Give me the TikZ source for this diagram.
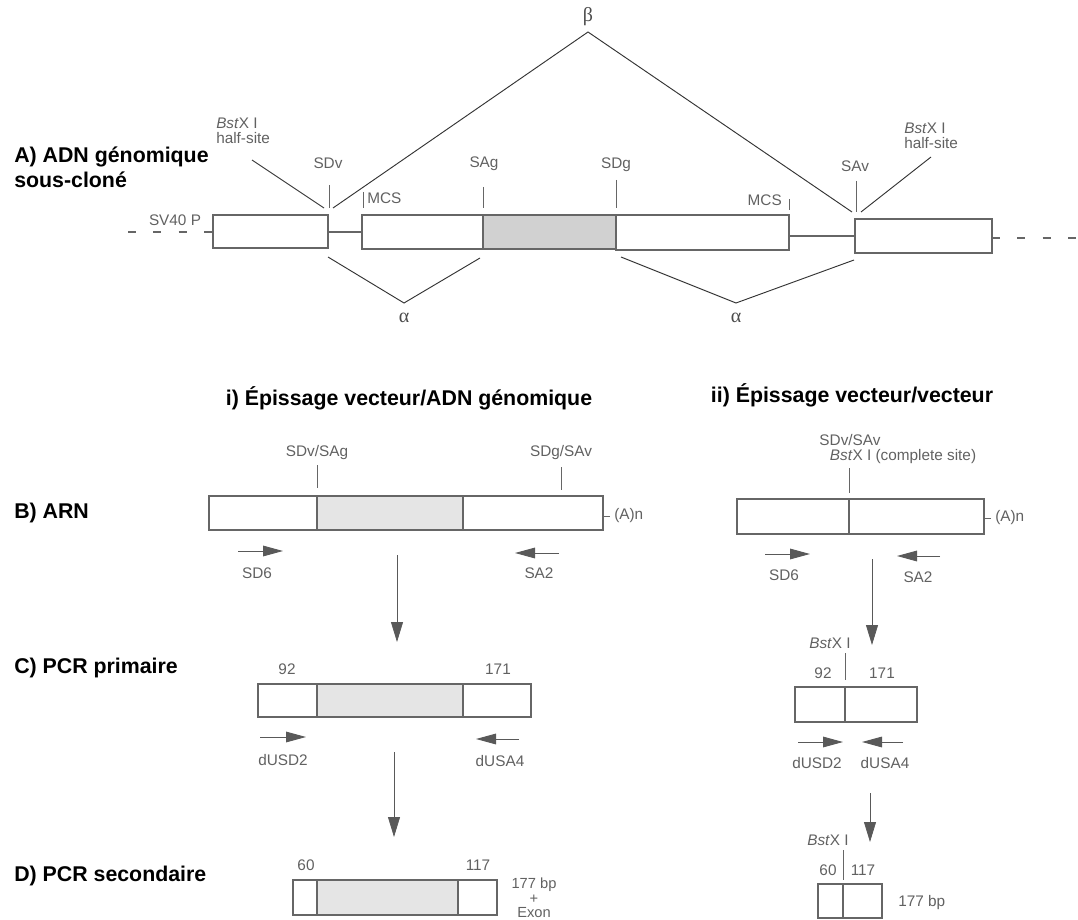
\documentclass[tikz,border=0pt]{standalone}
\usepackage{fontspec}
\setmainfont{Liberation Sans}
\newfontfamily\greekfont{Liberation Serif}
\usetikzlibrary{arrows.meta}
\definecolor{boxline}{gray}{0.4}
\definecolor{labtext}{gray}{0.38}
\definecolor{gshade}{gray}{0.82}
\definecolor{lshade}{gray}{0.9}

\begin{document}
\begin{tikzpicture}[
  x=0.75pt, y=-0.75pt,
  font=\fontsize{11.5}{13}\selectfont,
  seg/.style={draw=boxline, line width=1.3pt, fill=white},
  gseg/.style={seg, fill=gshade},
  lseg/.style={seg, fill=lshade},
  intron/.style={draw=boxline, line width=1.3pt},
  vector/.style={draw=boxline, line width=1.3pt, dash pattern=on 6pt off 13pt},
  tick/.style={draw=boxline, line width=0.6pt},
  splice/.style={draw=black!80, line width=0.7pt},
  lab/.style={text=labtext, inner sep=0pt},
  twolab/.style={lab, align=left, font=\fontsize{11.5}{11.5}\selectfont},
  head/.style={font=\bfseries\fontsize{16}{19}\selectfont, inner sep=0pt},
  greek/.style={font=\greekfont\fontsize{15}{15}\selectfont, text=black!70, inner sep=0pt},
  primer/.style={draw=black!65, line width=0.7pt, -{Triangle[length=15pt,width=8pt]}},
  flow/.style={draw=black!65, line width=0.6pt, -{Triangle[length=15pt,width=9pt]}}
]
\useasboundingbox (0,0) rectangle (1078,920);

% Headings
\node[head, anchor=west, align=left] (rowA) at (14,167) {A) ADN génomique\\sous-cloné};
\node[head, anchor=west] (rowB) at (14,513) {B) ARN};
\node[head, anchor=west] (rowC) at (14,668) {C) PCR primaire};
\node[head, anchor=west] (rowD) at (14,876) {D) PCR secondaire};
\node[head] (colI) at (409,398) {i) Épissage vecteur/ADN génomique};
\node[head] (colII) at (852,395) {ii) Épissage vecteur/vecteur};

% A) subcloned genomic DNA
\draw[vector] (128,232) -- (213,232);
\draw[seg] (213,215) rectangle (328,248);
\draw[intron] (328,232) -- (362,232);
\draw[seg] (362,215) rectangle (483,249);
\draw[gseg] (483,215) rectangle (616,249);
\draw[seg] (616,215) rectangle (789,250);
\draw[intron] (789,236) -- (855,236);
\draw[seg] (855,219) rectangle (992,253);
\draw[vector] (992,238) -- (1078,238);

\node[lab] (sv40) at (175,220) {SV40 P};
\node[lab] (sdv) at (328,163) {SDv};
\node[lab] (sag) at (484,164) {SAg};
\node[lab] (sdg) at (616,165) {SDg};
\node[lab] (sav) at (855,166) {SAv};
\node[lab, anchor=west] (mcsL) at (367,198) {MCS};
\node[lab, anchor=east] (mcsR) at (782,200) {MCS};
\node[twolab, anchor=west] (bstL) at (216,131) {\textit{Bst}X I\\half-site};
\node[twolab, anchor=west] (bstR) at (904,136) {\textit{Bst}X I\\half-site};
\node[greek] (beta) at (588,17) {β};
\node[greek] (alphaL) at (404,318) {α};
\node[greek] (alphaR) at (736,318) {α};

\coordinate (sdvT) at (329,185);  \coordinate (sdvB) at (329,208);
\coordinate (sagT) at (483,187);  \coordinate (sagB) at (483,208);
\coordinate (sdgT) at (616,180);  \coordinate (sdgB) at (616,208);
\coordinate (savT) at (856,181);  \coordinate (savB) at (856,212);
\coordinate (mcsLT) at (363,192); \coordinate (mcsLB) at (363,208);
\coordinate (mcsRT) at (789,199); \coordinate (mcsRB) at (789,210);
\draw[tick] (sdvT) -- (sdvB);
\draw[tick] (sagT) -- (sagB);
\draw[tick] (sdgT) -- (sdgB);
\draw[tick] (savT) -- (savB);
\draw[tick] (mcsLT) -- (mcsLB);
\draw[tick] (mcsRT) -- (mcsRB);

% splicing lines
\coordinate (bstLa) at (252,160); \coordinate (bstLb) at (324,208);
\coordinate (bstRa) at (931,157); \coordinate (bstRb) at (861,212);
\coordinate (b1) at (333,208); \coordinate (bTop) at (588,32); \coordinate (b2) at (852,212);
\coordinate (a1) at (328,257); \coordinate (a1v) at (404,303); \coordinate (a1e) at (480,258);
\coordinate (a2) at (621,257); \coordinate (a2v) at (736,303); \coordinate (a2e) at (854,260);
\draw[splice] (bstLa) -- (bstLb);
\draw[splice] (bstRa) -- (bstRb);
\draw[splice] (b1) -- (bTop) -- (b2);
\draw[splice] (a1) -- (a1v) -- (a1e);
\draw[splice] (a2) -- (a2v) -- (a2e);

% B) RNA, vector/genomic
\draw[seg] (209,496) rectangle (317,530);
\draw[lseg] (317,496) rectangle (463,530);
\draw[seg] (463,496) rectangle (603,530);
\node[lab] (sdvsag) at (317,453) {SDv/SAg};
\node[lab] (sdgsav) at (561,453) {SDg/SAv};
\node[lab, anchor=west] (polyA1) at (614,516) {(A)n};
\node[lab] (sd6a) at (257,573) {SD6};
\node[lab] (sa2a) at (539,573) {SA2};
\coordinate (t1T) at (317,465); \coordinate (t1B) at (317,488);
\coordinate (t2T) at (561,467); \coordinate (t2B) at (561,490);
\coordinate (pa1) at (603,516); \coordinate (pa1e) at (610,516);
\draw[tick] (t1T) -- (t1B);
\draw[tick] (t2T) -- (t2B);
\draw[tick] (pa1) -- (pa1e);
\coordinate (p1s) at (238,551); \coordinate (p1e) at (283,551);
\coordinate (p2s) at (559,553); \coordinate (p2e) at (515,553);
\draw[primer] (p1s) -- (p1e);
\draw[primer] (p2s) -- (p2e);
\coordinate (f1s) at (397,555); \coordinate (f1e) at (397,642);
\draw[flow] (f1s) -- (f1e);

% C) primary PCR, vector/genomic
\draw[seg] (258,684) rectangle (317,717);
\draw[lseg] (317,684) rectangle (463,717);
\draw[seg] (463,684) rectangle (531,717);
\node[lab] (n92a) at (287,669) {92};
\node[lab] (n171a) at (498,669) {171};
\node[lab] (usd2a) at (283,760) {dUSD2};
\node[lab] (usa4a) at (500,761) {dUSA4};
\coordinate (p3s) at (260,737); \coordinate (p3e) at (306,737);
\coordinate (p4s) at (519,739); \coordinate (p4e) at (476,739);
\draw[primer] (p3s) -- (p3e);
\draw[primer] (p4s) -- (p4e);
\coordinate (f2s) at (394,752); \coordinate (f2e) at (394,837);
\draw[flow] (f2s) -- (f2e);

% D) secondary PCR, vector/genomic
\draw[seg] (293,880) rectangle (317,915);
\draw[lseg] (317,880) rectangle (458,915);
\draw[seg] (458,880) rectangle (497,915);
\node[lab] (n60a) at (306,865) {60};
\node[lab] (n117a) at (478,865) {117};
\node[lab, align=center, font=\fontsize{11}{11}\selectfont] (exon) at (534,898) {177 bp\\+\\Exon};

% B) RNA, vector/vector
\draw[seg] (737,499) rectangle (849,534);
\draw[seg] (849,499) rectangle (984,534);
\node[lab] (sdvsav) at (850,440) {SDv/SAv};
\node[lab] (bstC) at (903,457) {\textit{Bst}X I (complete site)};
\node[lab, anchor=west] (polyA2) at (995,518) {(A)n};
\node[lab] (sd6b) at (784,575) {SD6};
\node[lab] (sa2b) at (918,577) {SA2};
\coordinate (t3T) at (849,468); \coordinate (t3B) at (849,493);
\coordinate (pa2) at (984,518); \coordinate (pa2e) at (991,518);
\draw[tick] (t3T) -- (t3B);
\draw[tick] (pa2) -- (pa2e);
\coordinate (p5s) at (765,554); \coordinate (p5e) at (810,554);
\coordinate (p6s) at (940,556); \coordinate (p6e) at (897,556);
\draw[primer] (p5s) -- (p5e);
\draw[primer] (p6s) -- (p6e);
\coordinate (f3s) at (872,559); \coordinate (f3e) at (872,645);
\draw[flow] (f3s) -- (f3e);

% C) primary PCR, vector/vector
\node[lab] (bstP) at (830,643) {\textit{Bst}X I};
\node[lab] (n92b) at (823,673) {92};
\node[lab] (n171b) at (882,673) {171};
\coordinate (t4T) at (845,653); \coordinate (t4B) at (845,680);
\draw[tick] (t4T) -- (t4B);
\draw[seg] (795,687) rectangle (845,722);
\draw[seg] (845,687) rectangle (917,722);
\node[lab] (usd2b) at (817,763) {dUSD2};
\node[lab] (usa4b) at (885,763) {dUSA4};
\coordinate (p7s) at (798,742); \coordinate (p7e) at (843,742);
\coordinate (p8s) at (903,742); \coordinate (p8e) at (862,742);
\draw[primer] (p7s) -- (p7e);
\draw[primer] (p8s) -- (p8e);
\coordinate (f4s) at (870,793); \coordinate (f4e) at (870,842);
\draw[flow] (f4s) -- (f4e);

% D) secondary PCR, vector/vector
\node[lab] (bstS) at (828,840) {\textit{Bst}X I};
\node[lab] (n60b) at (828,870) {60};
\node[lab] (n117b) at (863,870) {117};
\coordinate (t5T) at (843,850); \coordinate (t5B) at (843,880);
\draw[tick] (t5T) -- (t5B);
\draw[seg] (818,884) rectangle (843,918);
\draw[seg] (843,884) rectangle (882,918);
\node[lab, anchor=west] (bp177) at (898,903) {177 bp};

\end{tikzpicture}
\end{document}
